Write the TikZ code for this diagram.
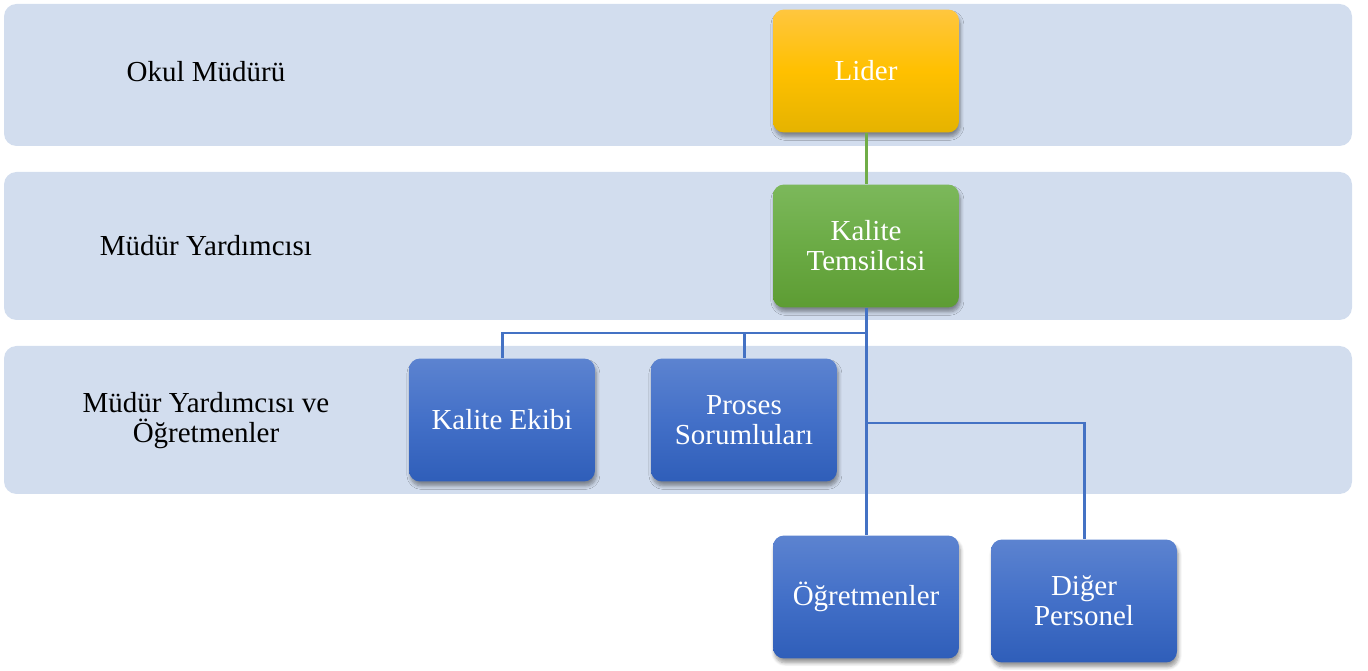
\documentclass[tikz,border=0pt]{standalone}
\usepackage{fontspec}
\setmainfont{Liberation Serif}
\usepackage{tikz}
\usetikzlibrary{shadows.blur}

\definecolor{bandfill}{HTML}{D2DDEE}
\definecolor{lineblue}{HTML}{4472C4}
\definecolor{linegreen}{HTML}{70AD47}
\definecolor{goldtop}{HTML}{FFC63F}
\definecolor{goldmid}{HTML}{FFC000}
\definecolor{goldbot}{HTML}{E5B300}
\definecolor{greentop}{HTML}{7CB85B}
\definecolor{greenmid}{HTML}{6BAB45}
\definecolor{greenbot}{HTML}{5D9C33}
\definecolor{bluetop}{HTML}{5C83D0}
\definecolor{bluemid}{HTML}{4370C8}
\definecolor{bluebot}{HTML}{2F5EB9}

\tikzset{
  band/.style={fill=bandfill, rounded corners=0.25cm},
  levellabel/.style={align=center, font=\fontsize{16.5}{17}\selectfont},
  unit/.style={rounded corners=0.22cm, minimum width=3.72cm, minimum height=2.46cm,
    align=center, text=white, font=\fontsize{16.5}{17}\selectfont,
    blur shadow={shadow xshift=0.8pt, shadow yshift=-2.5pt, shadow blur steps=6,
      shadow blur radius=2pt, shadow opacity=40}},
  goldunit/.style={unit, top color=goldtop, bottom color=goldbot, middle color=goldmid},
  greenunit/.style={unit, top color=greentop, bottom color=greenbot, middle color=greenmid},
  blueunit/.style={unit, top color=bluetop, bottom color=bluebot, middle color=bluemid},
  blueline/.style={draw=lineblue, line width=1.7pt},
  greenline/.style={draw=linegreen, line width=1.7pt}
}

\begin{document}
\begin{tikzpicture}[x=0.02cm, y=-0.02cm]
    \useasboundingbox (0,0) rectangle (1368,671);
    % Draw the three level bands
    \fill[band] (4,4) rectangle (1352,146);
    \fill[band] (4,172) rectangle (1352,320);
    \fill[band] (4,346) rectangle (1352,494);
    \node[levellabel] (okul) at (206,72) {Okul Müdürü};
    \node[levellabel] (yard) at (206,246) {Müdür Yardımcısı};
    \node[levellabel] (yardogr) at (206,421) {Müdür Yardımcısı ve\\Öğretmenler};
    % Connectors first, boxes on top
    \coordinate (bar) at (866,333);
    \coordinate (fork) at (866,423);
    \node[goldunit] (lider) at (866,71) {Lider};
    \node[greenunit] (tem) at (866,246) {Kalite\\Temsilcisi};
    \node[blueunit] (ekip) at (502,420) {Kalite Ekibi};
    \node[blueunit] (proses) at (744,420) {Proses\\Sorumluları};
    \node[blueunit] (ogr) at (866,597) {Öğretmenler};
    \node[blueunit] (diger) at (1084,601) {Diğer\\Personel};
    \draw[greenline] (lider) -- (tem);
    \draw[blueline] (tem.south) -- (ogr.north);
    \draw[blueline] (bar) -| (ekip.north);
    \draw[blueline] (bar) -| (proses.north);
    \draw[blueline] (fork) -| (diger.north); % side branch
\end{tikzpicture}
\end{document}
